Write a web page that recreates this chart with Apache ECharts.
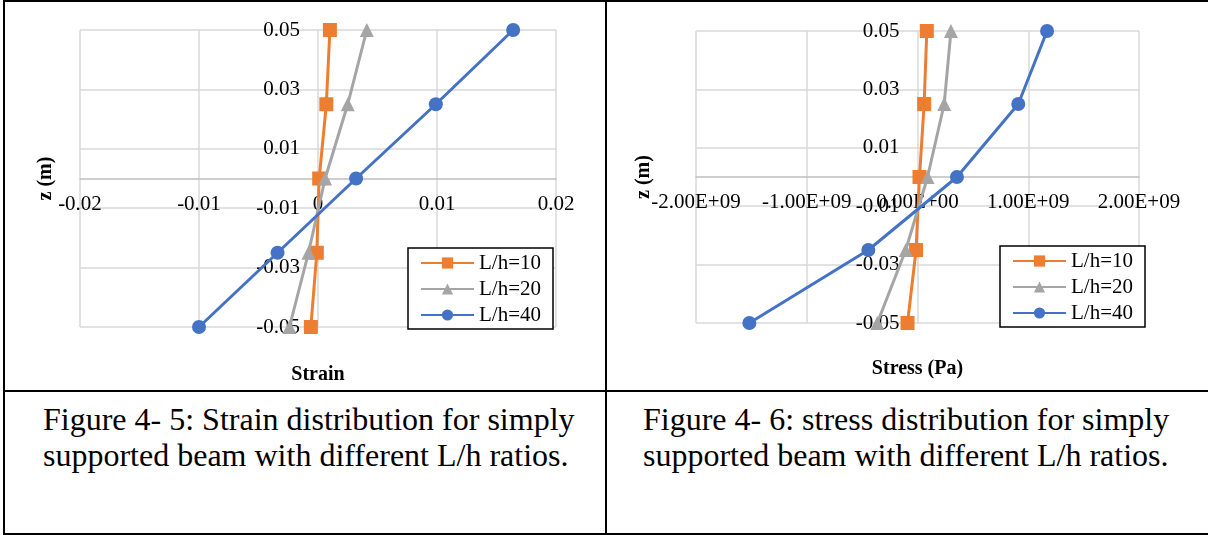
<!DOCTYPE html>
<html>
<head>
<meta charset="utf-8">
<title>Strain and stress distribution</title>
<script src="https://cdn.jsdelivr.net/npm/echarts@6/dist/echarts.min.js"></script>
<style>
  body { margin: 0; background: #fff; }
  .page { position: relative; width: 1208px; height: 535px; overflow: hidden; background: #fff; }
  #charts { position: absolute; left: 0; top: 0; width: 1208px; height: 390px; }
  .rule { position: absolute; background: #000; }
  .caption {
    position: absolute;
    font-family: 'Liberation Serif', 'Times New Roman', serif;
    font-size: 32px;
    line-height: 36px;
    color: #000;
    white-space: nowrap;
  }
</style>
</head>
<body>
<div class="page">
  <div id="charts"></div>
  <!-- table borders -->
  <div class="rule" style="left:3px; top:0; width:1205px; height:2px;"></div>
  <div class="rule" style="left:3px; top:0; width:2px; height:535px;"></div>
  <div class="rule" style="left:605px; top:0; width:2px; height:535px;"></div>
  <div class="rule" style="left:3px; top:390px; width:1205px; height:2px;"></div>
  <div class="rule" style="left:3px; top:533px; width:1205px; height:2px;"></div>
  <div class="caption" style="left:43px; top:401px;">Figure 4- 5: Strain distribution for simply<br>supported beam with different L/h ratios.</div>
  <div class="caption" style="left:643px; top:401px;">Figure 4- 6: stress distribution for simply<br>supported beam with different L/h ratios.</div>
</div>
<script>
// 数据
var seriesNames = ['L/h=10', 'L/h=20', 'L/h=40']
var zValues = [0.05, 0.025, 0, -0.025, -0.05]
// strain
var strain10 = [0.001, 0.0007, 0.0001, -0.0001, -0.0006]
var strain20 = [0.0041, 0.0025, 0.0006, -0.0008, -0.0024]
var strain40 = [0.0164, 0.0099, 0.0032, -0.0034, -0.0100]
// stress (Pa)
var stress10 = [0.084e9, 0.06e9, 0.018e9, -0.013e9, -0.09e9]
var stress20 = [0.302e9, 0.241e9, 0.091e9, -0.106e9, -0.363e9]
var stress40 = [1.17e9, 0.91e9, 0.356e9, -0.444e9, -1.518e9]
// axis ticks
var zTicks = [-0.05, -0.03, -0.01, 0.01, 0.03, 0.05]
var strainRange = [-0.02, 0.02, 0.01] // min, max, interval
var stressRange = [-2e9, 2e9, 1e9]

var colors = ['#ED7D31', '#A5A5A5', '#4472C4']
var symbols = ['rect', 'triangle', 'circle']
var serif = "'Liberation Serif', 'Times New Roman', serif"
var gridColor = '#D9D9D9'

// plot areas
var grids = [
  { left: 80, top: 30, width: 476, height: 297 },
  { left: 696, top: 31, width: 443, height: 292 }
]

// 0.00E+00 style labels like Excel
function sciLabel(v) {
  var s = v.toExponential(2).toUpperCase()
  return s.replace(/E([+-])(\d)$/, 'E$10$2')
}

function pairs(xs) {
  return xs.map(function (x, i) { return [x, zValues[i]] })
}

// horizontal axis drawn through z = 0 (middle of the plot, axes are symmetric)
function valueXAxis(gridIndex, range, formatter) {
  return {
    gridIndex: gridIndex,
    type: 'value',
    position: 'bottom',
    offset: -grids[gridIndex].height / 2,
    min: range[0],
    max: range[1],
    interval: range[2],
    axisLine: { onZero: false, lineStyle: { color: '#BFBFBF', width: 1.5 } },
    axisTick: { show: false },
    axisLabel: { color: '#000', fontFamily: serif, fontSize: 21, margin: 15, formatter: formatter, hideOverlap: false },
    splitLine: { show: true, lineStyle: { color: gridColor, width: 1.5 } }
  }
}
// axis only used to place the title at the bottom
function titleXAxis(gridIndex, range, name, gap) {
  return {
    gridIndex: gridIndex,
    type: 'value',
    position: 'bottom',
    min: range[0],
    max: range[1],
    name: name,
    nameLocation: 'middle',
    nameGap: gap,
    nameTextStyle: { color: '#000', fontFamily: serif, fontSize: 20, fontWeight: 'bold' },
    axisLine: { show: false, onZero: false },
    axisTick: { show: false },
    axisLabel: { show: false },
    splitLine: { show: false }
  }
}
// vertical axis drawn through x = 0
function valueYAxis(gridIndex) {
  return {
    gridIndex: gridIndex,
    type: 'value',
    position: 'left',
    offset: -grids[gridIndex].width / 2,
    min: -0.05,
    max: 0.05,
    axisLine: { show: false, onZero: false },
    axisTick: { show: false, customValues: zTicks },
    axisLabel: {
      color: '#000', fontFamily: serif, fontSize: 21, margin: 18, hideOverlap: false,
      customValues: zTicks,
      formatter: function (v) { return v.toFixed(2) }
    },
    splitLine: { show: true, lineStyle: { color: gridColor, width: 1.5 } }
  }
}
function titleYAxis(gridIndex, gap) {
  return {
    gridIndex: gridIndex,
    type: 'value',
    position: 'left',
    min: -0.05,
    max: 0.05,
    name: 'z (m)',
    nameLocation: 'middle',
    nameGap: gap,
    nameTextStyle: { color: '#000', fontFamily: serif, fontSize: 20, fontWeight: 'bold' },
    axisLine: { show: false, onZero: false },
    axisTick: { show: false },
    axisLabel: { show: false },
    splitLine: { show: false }
  }
}
function lineSeries(k, xIndex, yIndex, values) {
  return {
    name: seriesNames[k],
    type: 'line',
    xAxisIndex: xIndex,
    yAxisIndex: yIndex,
    data: pairs(values),
    color: colors[k],
    symbol: symbols[k],
    symbolSize: 14,
    showAllSymbol: true,
    lineStyle: { width: 3 },
    z: 3 + k
  }
}
function legendBox(left, top) {
  return {
    orient: 'vertical',
    left: left,
    top: top,
    data: seriesNames,
    padding: [4, 12, 3, 12],
    itemWidth: 53,
    itemHeight: 14,
    itemGap: 4,
    borderColor: '#000',
    borderWidth: 1.5,
    backgroundColor: '#fff',
    selectedMode: false,
    textStyle: { color: '#000', fontFamily: serif, fontSize: 21, lineHeight: 22 }
  }
}

var myChart = echarts.init(document.getElementById('charts'))
myChart.setOption({
  animation: false,
  backgroundColor: 'transparent',
  grid: grids,
  xAxis: [
    valueXAxis(0, strainRange),
    titleXAxis(0, strainRange, 'Strain', 38),
    valueXAxis(1, stressRange, sciLabel),
    titleXAxis(1, stressRange, 'Stress (Pa)', 36)
  ],
  yAxis: [
    valueYAxis(0),
    titleYAxis(0, 24),
    valueYAxis(1),
    titleYAxis(1, 42)
  ],
  legend: [legendBox(408, 248), legendBox(1000, 246)],
  series: [
    lineSeries(0, 0, 0, strain10),
    lineSeries(1, 0, 0, strain20),
    lineSeries(2, 0, 0, strain40),
    lineSeries(0, 2, 2, stress10),
    lineSeries(1, 2, 2, stress20),
    lineSeries(2, 2, 2, stress40)
  ]
})
</script>
</body>
</html>
